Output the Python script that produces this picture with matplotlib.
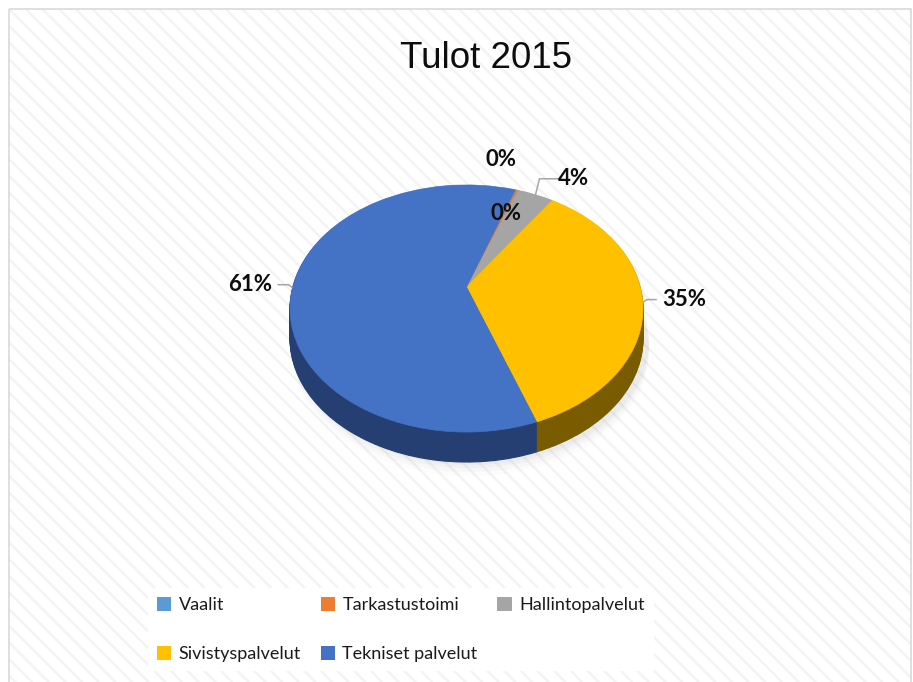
import numpy as np
import matplotlib
matplotlib.use("Agg")
import matplotlib.pyplot as plt
import matplotlib.transforms as mtransforms
from matplotlib.patches import Rectangle, Patch

# data
categories = ["Vaalit", "Tarkastustoimi", "Hallintopalvelut",
              "Sivistyspalvelut", "Tekniset palvelut"]
shares = [0.15, 0.2, 3.9, 35.0, 60.75]
labels = ["0%", "0%", "4%", "35%", "61%"]
title = "Tulot 2015"

top_colors = ["#5B9BD5", "#ED7D31", "#A5A5A5", "#FFC000", "#4472C4"]
side_colors = ["#2e5a85", "#8a4312", "#5f5f5f", "#7a5c00", "#263f73"]

plt.rcParams["hatch.linewidth"] = 1.7


class Tilt(mtransforms.Transform):
    """unit pie -> tilted disc (pixel coords), simple perspective"""
    input_dims = 2
    output_dims = 2

    def __init__(self, cx, cy, rx, ry, k, drop=0.0):
        super().__init__()
        self.cx, self.cy, self.rx, self.ry, self.k, self.drop = cx, cy, rx, ry, k, drop

    def transform_non_affine(self, values):
        values = np.asarray(values, dtype=float)
        x, y = values[:, 0], values[:, 1]
        w = 1 + self.k * y
        return np.column_stack([self.cx + self.rx * x / w,
                                self.cy - self.ry * y / w + self.drop])


fig = plt.figure(figsize=(9.13, 6.82), dpi=100)
ax = fig.add_axes([0, 0, 1, 1])

# chart area: white with faint diagonal stripes
ax.add_patch(Rectangle((9, 9), 902, 680, facecolor="white", edgecolor="#f3f3f3",
                       linewidth=0, hatch="\\\\", zorder=0))
ax.add_patch(Rectangle((9, 9), 902, 680, facecolor="none", edgecolor="#d9d9d9",
                       linewidth=1.2, zorder=0.5))

cx, cy, rx, ry, k = 466.5, 287, 173.8, 119.8, 0.174
depth = 30
start = 71.0

# soft shadow
for d, a in [(44, 0.025), (40, 0.035), (36, 0.045), (33, 0.05)]:
    sh, _ = ax.pie([1], colors=["#808080"], startangle=start,
                   wedgeprops=dict(linewidth=0, alpha=a))
    for w in sh:
        w.set_transform(Tilt(cx + 4, cy, rx + 2, ry, k, drop=d) + ax.transData)
        w.set_zorder(1)

# side wall: stacked darker copies
for d in range(depth, 0, -1):
    wedges, _ = ax.pie(shares, colors=side_colors, startangle=start,
                       counterclock=False)
    for w in wedges:
        w.set_edgecolor(w.get_facecolor())
        w.set_linewidth(0.8)
        w.set_transform(Tilt(cx, cy, rx, ry, k, drop=d) + ax.transData)
        w.set_zorder(2)

# top face
tilt = Tilt(cx, cy, rx, ry, k)
wedges, _ = ax.pie(shares, colors=top_colors, startangle=start,
                   counterclock=False)
for w in wedges:
    w.set_edgecolor(w.get_facecolor())
    w.set_linewidth(0.5)
    w.set_transform(tilt + ax.transData)
    w.set_zorder(3)

# data labels (offsets from the rim point of each slice, in pixels)
label_offsets = [(-15, -30), (-11, 23), (38, -16), (41, -3), (-42, -3)]
leader = [False, False, True, True, True]
for w, txt, (dx, dy), ld in zip(wedges, labels, label_offsets, leader):
    mid = np.deg2rad((w.theta1 + w.theta2) / 2)
    rim = tilt.transform(np.array([[np.cos(mid), np.sin(mid)]]))[0]
    lx, ly = rim[0] + dx, rim[1] + dy
    ax.text(lx, ly, txt, ha="center", va="center", fontsize=16,
            fontweight="bold", family=["Lato", "DejaVu Sans"], color="#0d0d0d",
            zorder=5)
    if ld:
        side = 1 if dx > 0 else -1
        half = 10 if len(txt) == 2 else 22
        end_x = lx - side * (half + 5)
        elbow_x = rim[0] + side * 4
        ax.plot([rim[0], elbow_x, end_x], [rim[1], ly, ly], color="#a6a6a6",
                linewidth=1.1, zorder=4, solid_capstyle="butt")

ax.text(486, 58, title, ha="center", va="center", fontsize=26.5,
        family=["Liberation Sans", "DejaVu Sans"], color="#0d0d0d", zorder=5)

ax.set_xlim(0, 913)
ax.set_ylim(682, 0)
ax.set_aspect("auto")
ax.axis("off")

# legend, row-major order as in the original
order = [0, 3, 1, 4, 2]
handles = [Patch(facecolor=top_colors[i], edgecolor="none") for i in order]
names = [categories[i] for i in order]
leg = fig.legend(handles, names, ncol=3, loc="upper left",
                 bbox_to_anchor=(148 / 913, 1 - 588 / 682),
                 prop={"family": ["Lato", "DejaVu Sans"], "size": 13},
                 frameon=True, fancybox=False, framealpha=1, edgecolor="white",
                 handlelength=0.8, handleheight=0.8, handletextpad=0.4,
                 columnspacing=1.1, labelspacing=1.8, borderpad=0.5,
                 borderaxespad=0)
leg.get_frame().set_linewidth(0)
for t in leg.get_texts():
    t.set_color("#1a1a1a")

fig.savefig("out.png", dpi=100)
